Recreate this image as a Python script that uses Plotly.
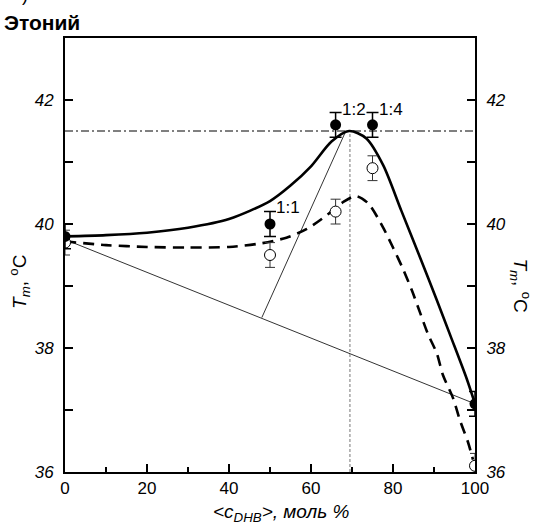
import plotly.graph_objects as go

# ---- data ----
ratio_labels = ["1:1", "1:2", "1:4"]
label_x = [54.5, 70.5, 79.5]
label_y = [40.26, 41.85, 41.85]

pts_x = [0, 50, 66, 75, 100]
filled_y = [39.8, 40.0, 41.6, 41.6, 37.1]
filled_err = [0.2, 0.2, 0.2, 0.2, 0.2]
open_y = [39.7, 39.5, 40.2, 40.9, 36.1]
open_err = [0.2, 0.2, 0.2, 0.2, 0.2]

solid_x = [0, 10, 20, 30, 40, 50, 55, 60, 65, 69.3, 73.5, 77.6, 82, 86.6, 90.7, 94, 98, 100]
solid_y = [39.80, 39.82, 39.86, 39.94, 40.08, 40.37, 40.62, 40.93, 41.33, 41.50, 41.38, 40.95,
           40.22, 39.46, 38.77, 38.2, 37.5, 37.1]

dash_x = [0, 10, 20, 30, 40, 48, 54, 59, 64, 68, 71, 74, 77.6, 80, 82.4, 84.6, 86.6,
          88.5, 90.7, 92.2, 94.6, 96.3, 98.3, 99.5]
dash_y = [39.72, 39.66, 39.63, 39.62, 39.63, 39.69, 39.78, 39.92, 40.15, 40.36, 40.45, 40.33,
          39.94, 39.62, 39.28, 38.93, 38.57, 38.23, 37.91, 37.56, 37.2, 36.84, 36.48, 36.2]

base_line_x = [0, 100]
base_line_y = [39.75, 37.1]
rise_line_x = [48, 68.5]
rise_line_y = [38.49, 41.5]

peak_x = 69.5
peak_y = 41.5

x_range = [0, 100]
y_range = [36, 43]

FONT = "Liberation Sans, Arial, sans-serif"

fig = go.Figure()

# thin construction lines
fig.add_trace(go.Scatter(x=base_line_x, y=base_line_y, mode="lines",
                         line=dict(color="#333", width=1), showlegend=False))
fig.add_trace(go.Scatter(x=rise_line_x, y=rise_line_y, mode="lines",
                         line=dict(color="#333", width=1), showlegend=False))

# reference lines
fig.add_trace(go.Scatter(x=x_range, y=[peak_y, peak_y], mode="lines",
                         line=dict(color="black", width=1, dash="8px,3px,2px,3px"),
                         showlegend=False))
fig.add_trace(go.Scatter(x=[peak_x, peak_x], y=[y_range[0], peak_y], mode="lines",
                         line=dict(color="#777", width=1, dash="3px,2px"), showlegend=False))

# curves
fig.add_trace(go.Scatter(x=solid_x, y=solid_y, mode="lines", line_shape="spline",
                         line=dict(color="black", width=2.6, smoothing=0.8), showlegend=False))
fig.add_trace(go.Scatter(x=dash_x, y=dash_y, mode="lines", line_shape="spline",
                         line=dict(color="black", width=2.6, dash="11px,7px", smoothing=0.8),
                         showlegend=False))

# points
fig.add_trace(go.Scatter(x=pts_x, y=open_y, mode="markers",
                         marker=dict(symbol="circle", size=11, color="white",
                                     line=dict(color="black", width=1)),
                         error_y=dict(type="data", array=open_err, color="#333",
                                      thickness=1, width=5),
                         showlegend=False))
fig.add_trace(go.Scatter(x=pts_x, y=filled_y, mode="markers",
                         marker=dict(symbol="circle", size=11, color="black"),
                         error_y=dict(type="data", array=filled_err, color="black",
                                      thickness=1.5, width=6),
                         showlegend=False))

# ratio labels
for t, lx, ly in zip(ratio_labels, label_x, label_y):
    fig.add_annotation(x=lx, y=ly, text=t, showarrow=False,
                       font=dict(family=FONT, size=17, color="black"))

axis_common = dict(showline=True, linecolor="black", linewidth=2, ticks="inside",
                   tickcolor="black", tickwidth=1.5, showgrid=False, zeroline=False)

fig.update_layout(
    width=534, height=528, autosize=False,
    margin=dict(l=65, r=59, t=38, b=56),
    plot_bgcolor="white", paper_bgcolor="white",
    xaxis=dict(range=x_range, tick0=0, dtick=20, ticklen=8, mirror=True,
               minor=dict(ticks="inside", dtick=10, ticklen=5, tickcolor="black"),
               tickfont=dict(family=FONT, size=17, color="black"),
               **axis_common),
    yaxis=dict(range=y_range, tick0=36, dtick=2, ticklen=8,
               minor=dict(ticks="inside", dtick=1, ticklen=8, tickcolor="black"),
               tickfont=dict(family=FONT, size=17, color="black", style="italic"),
               ticklabelstandoff=6,
               **axis_common),
    yaxis2=dict(range=y_range, tick0=36, dtick=2, ticklen=8, overlaying="y", side="right",
                anchor="x",
                minor=dict(ticks="inside", dtick=1, ticklen=8, tickcolor="black"),
                tickfont=dict(family=FONT, size=17, color="black", style="italic"),
                ticklabelstandoff=6,
                **axis_common),
)

# dummy trace to show yaxis2
fig.add_trace(go.Scatter(x=[None], y=[None], yaxis="y2", showlegend=False))

# titles
fig.add_annotation(xref="paper", yref="paper", x=-0.153, y=1.036, xanchor="left",
                   yanchor="middle", text="<b>Этоний</b>", showarrow=False,
                   font=dict(family=FONT, size=21, color="black"))
fig.add_annotation(xref="paper", yref="paper", x=-0.11, y=1.072, xanchor="left",
                   yanchor="bottom", text=")", showarrow=False,
                   font=dict(family=FONT, size=18, color="black"))
fig.add_annotation(xref="paper", yref="paper", x=0.0, y=0.438, xshift=-45,
                   xanchor="center", yanchor="middle", textangle=-90,
                   text="<i>T<sub>m</sub></i>, <sup>o</sup>C", showarrow=False,
                   font=dict(family=FONT, size=19, color="black"))
fig.add_annotation(xref="paper", yref="paper", x=1.0, y=0.43, xshift=46,
                   xanchor="center", yanchor="middle", textangle=90,
                   text="<i>T<sub>m</sub></i>, <sup>o</sup>C", showarrow=False,
                   font=dict(family=FONT, size=19, color="black"))
fig.add_annotation(xref="paper", yref="paper", x=0.527, y=-0.095, xanchor="center",
                   yanchor="middle",
                   text="<i>&lt;c<sub>DHB</sub>&gt;, моль %</i>", showarrow=False,
                   font=dict(family=FONT, size=19, color="black"))

fig.write_html("out.html")
